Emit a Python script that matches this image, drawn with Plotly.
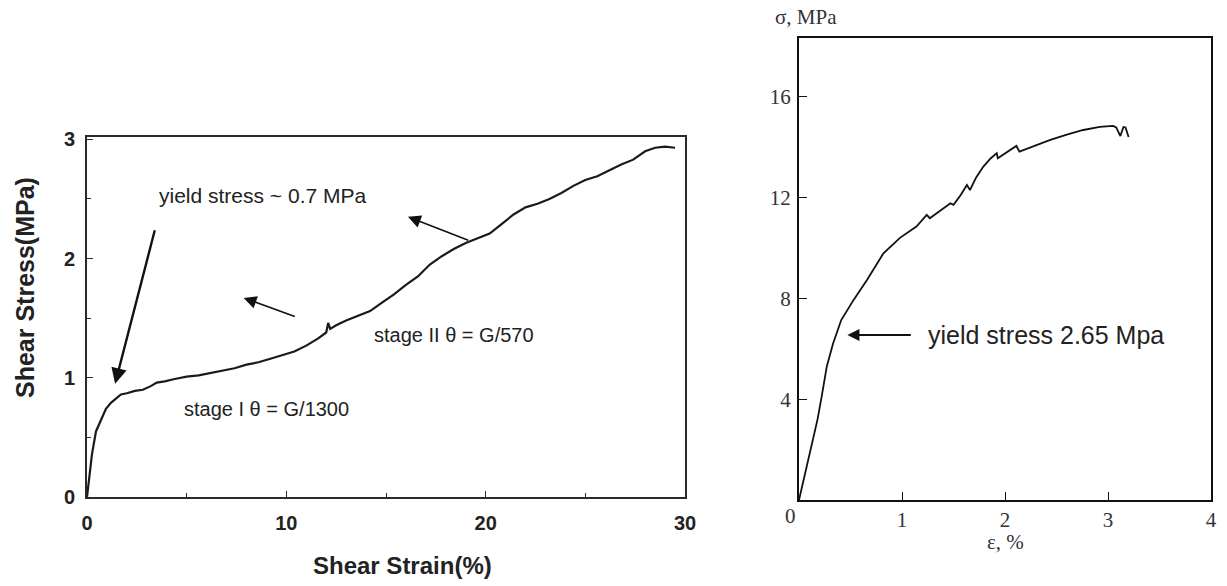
import plotly.graph_objects as go

# Shear test (left panel)
shear_strain = [0, 0.1, 0.25, 0.45, 0.7, 0.95, 1.2, 1.4, 1.7, 2.0, 2.4, 2.8, 3.2, 3.5, 3.9, 4.4,
                5.0, 5.6, 6.2, 6.8, 7.4, 8.0, 8.6, 9.2, 9.8, 10.4, 11.0, 11.6, 12.0, 12.1, 12.2,
                12.5, 13.0, 13.6, 14.2, 14.8, 15.4, 16.0, 16.6, 17.2, 17.8, 18.4, 19.0, 19.6,
                20.2, 20.8, 21.4, 22.0, 22.6, 23.2, 23.8, 24.4, 25.0, 25.6, 26.2, 26.8, 27.4,
                28.0, 28.5, 29.0, 29.5]
shear_stress = [0, 0.15, 0.36, 0.55, 0.65, 0.74, 0.79, 0.82, 0.86, 0.87, 0.89, 0.90, 0.93, 0.96,
                0.97, 0.99, 1.01, 1.02, 1.04, 1.06, 1.08, 1.11, 1.13, 1.16, 1.19, 1.22, 1.27,
                1.33, 1.38, 1.46, 1.41, 1.44, 1.48, 1.52, 1.56, 1.63, 1.70, 1.78, 1.85, 1.95,
                2.02, 2.08, 2.13, 2.17, 2.21, 2.29, 2.37, 2.43, 2.46, 2.50, 2.55, 2.61, 2.66,
                2.69, 2.74, 2.79, 2.83, 2.90, 2.93, 2.94, 2.93]

# Tensile test (right panel)
tensile_strain = [0, 0.06, 0.12, 0.18, 0.22, 0.27, 0.33, 0.41, 0.53, 0.66, 0.82, 0.98, 1.14,
                  1.24, 1.27, 1.36, 1.47, 1.50, 1.57, 1.63, 1.66, 1.72, 1.79, 1.86, 1.92, 1.93,
                  2.02, 2.11, 2.14, 2.28, 2.44, 2.60, 2.76, 2.92, 3.05, 3.08, 3.12, 3.15, 3.17, 3.20]
tensile_stress = [0, 1.05, 2.12, 3.2, 4.1, 5.3, 6.2, 7.14, 7.94, 8.73, 9.79, 10.4, 10.85, 11.31,
                  11.18, 11.45, 11.77, 11.71, 12.1, 12.5, 12.3, 12.8, 13.23, 13.55, 13.76, 13.56,
                  13.8, 14.05, 13.82, 14.05, 14.29, 14.5, 14.68, 14.8, 14.84, 14.78, 14.44, 14.8,
                  14.78, 14.4]

left_xticks = [0, 10, 20, 30]
left_yticks = [0, 1, 2, 3]
right_xticks = [1, 2, 3, 4]
right_yticks = [4, 8, 12, 16]

W, H = 1227, 586


def px(x):
    return x / W


def py(y):
    return 1 - y / H


fig = go.Figure()
fig.add_trace(go.Scatter(x=shear_strain, y=shear_stress, mode="lines",
                         line=dict(color="#1a1a1a", width=2.2), xaxis="x", yaxis="y",
                         showlegend=False, hoverinfo="skip"))
fig.add_trace(go.Scatter(x=tensile_strain, y=tensile_stress, mode="lines",
                         line=dict(color="#111111", width=1.8), xaxis="x2", yaxis="y2",
                         showlegend=False, hoverinfo="skip"))

SANS = "Liberation Sans, Arial, sans-serif"
sans_bold = dict(family=SANS, size=20, color="#222222", weight="bold")
serif_font = dict(family="Liberation Serif, Times New Roman, serif", size=21, color="#333333")
note_font = dict(family=SANS, size=20, color="#222222")

fig.update_layout(
    width=W, height=H,
    margin=dict(l=0, r=0, t=0, b=0, autoexpand=False),
    paper_bgcolor="white", plot_bgcolor="white",
    xaxis=dict(domain=[px(87), px(685)], range=[0, 30], anchor="y", automargin=False,
               showline=True, mirror=True, linecolor="#2a2a2a", linewidth=2,
               showgrid=False, zeroline=False,
               tickvals=left_xticks, ticks="inside", ticklen=6, tickcolor="#2a2a2a",
               minor=dict(dtick=5, ticks="inside", ticklen=4, tickcolor="#2a2a2a"),
               tickfont=sans_bold, ticklabelstandoff=7),
    yaxis=dict(domain=[py(497), py(137)], range=[0, 3.02], anchor="x", automargin=False,
               showline=True, mirror=True, linecolor="#2a2a2a", linewidth=2,
               showgrid=False, zeroline=False,
               tickvals=left_yticks, ticks="inside", ticklen=6, tickcolor="#2a2a2a",
               minor=dict(dtick=0.5, ticks="inside", ticklen=4, tickcolor="#2a2a2a"),
               tickfont=sans_bold, ticklabelstandoff=6),
    xaxis2=dict(domain=[px(799), px(1211)], range=[0, 4], anchor="y2", automargin=False,
                showline=True, mirror=True, linecolor="#111111", linewidth=2,
                showgrid=False, zeroline=False,
                tickvals=right_xticks, ticks="inside", ticklen=8, tickcolor="#111111",
                tickfont=serif_font, ticklabelstandoff=0),
    yaxis2=dict(domain=[py(500), py(38)], range=[0, 18.33], anchor="x2", automargin=False,
                showline=True, mirror=True, linecolor="#111111", linewidth=2,
                showgrid=False, zeroline=False,
                tickvals=right_yticks, ticks="inside", ticklen=8, tickcolor="#111111",
                tickfont=serif_font, ticklabelstandoff=2),
)


def paper_label(text, x, y, font, angle=0):
    return dict(text=text, xref="paper", yref="paper", x=px(x), y=py(y),
                xanchor="center", yanchor="middle", showarrow=False,
                textangle=angle, font=font)


annotations = [
    # axis titles, left panel
    paper_label("<b>Shear Stress(MPa)</b>", 25, 288, dict(family=SANS, size=25, color="#222222"),
                angle=-90),
    paper_label("<b>Shear Strain(%)</b>", 402, 565, dict(family=SANS, size=24, color="#222222")),
    # left panel notes
    dict(text="yield stress ~ 0.7 MPa", xref="x", yref="y", x=8.8, y=2.53, showarrow=False,
         xanchor="center", yanchor="middle", font=dict(family=SANS, size=21, color="#222222")),
    dict(text="stage I θ = G/1300", xref="x", yref="y", x=9.0, y=0.74, showarrow=False,
         xanchor="center", yanchor="middle", font=note_font),
    dict(text="stage II θ = G/570", xref="x", yref="y", x=18.4, y=1.36, showarrow=False,
         xanchor="center", yanchor="middle", font=note_font),
    dict(text="", xref="x", yref="y", axref="x", ayref="y", x=1.41, y=0.95, ax=3.42, ay=2.25,
         showarrow=True, arrowhead=2, arrowsize=1.3, arrowwidth=2.4, arrowcolor="#111111"),
    dict(text="", xref="x", yref="y", axref="x", ayref="y", x=7.86, y=1.67, ax=10.5, ay=1.51,
         showarrow=True, arrowhead=2, arrowsize=1.6, arrowwidth=1.6, arrowcolor="#111111"),
    dict(text="", xref="x", yref="y", axref="x", ayref="y", x=16.1, y=2.35, ax=19.2, ay=2.15,
         showarrow=True, arrowhead=2, arrowsize=1.6, arrowwidth=1.6, arrowcolor="#111111"),
    # right panel labels
    paper_label("σ, MPa", 806, 17, serif_font),
    paper_label("ε, %", 1005, 542, serif_font),
    paper_label("0", 790, 516, serif_font),
    dict(text="yield stress 2.65 Mpa", xref="x2", yref="y2", x=1.23, y=6.55, xanchor="left",
         yanchor="middle", showarrow=False,
         font=dict(family=SANS, size=25, color="#222222")),
    dict(text="", xref="x2", yref="y2", axref="x2", ayref="y2", x=0.47, y=6.55, ax=1.10, ay=6.55,
         showarrow=True, arrowhead=2, arrowsize=1.2, arrowwidth=2, arrowcolor="#111111"),
]
fig.update_layout(annotations=annotations)

fig.write_html("out.html")
